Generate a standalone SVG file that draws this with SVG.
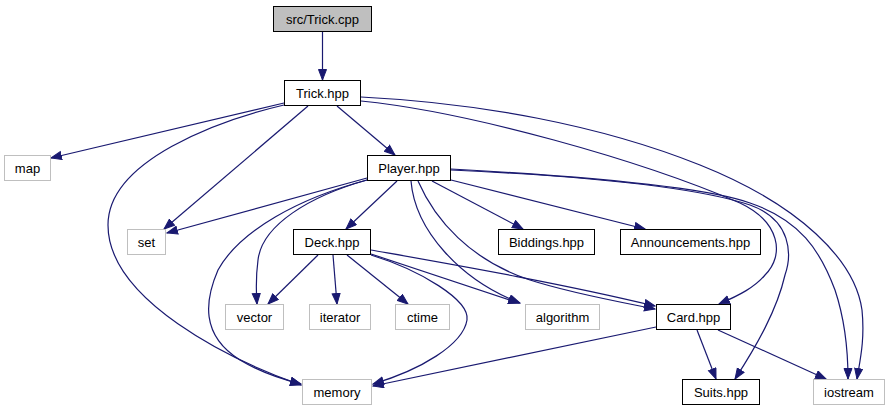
<svg xmlns="http://www.w3.org/2000/svg" width="891" height="411" viewBox="0 0 891 411">
<style>
.n rect{fill:#ffffff;stroke:#000000;stroke-width:1}
.n.root rect{fill:#bfbfbf}
.n.ext rect{stroke:#bfbfbf}
.n text{font-family:"Liberation Sans",Arial,sans-serif;font-size:13px;fill:#000000;text-anchor:middle}
#edges path{fill:none;stroke:#191970;stroke-width:1.2;marker-end:url(#ah)}
</style>
<defs>
<marker id="ah" markerUnits="userSpaceOnUse" markerWidth="12" markerHeight="10" refX="11" refY="4.5" orient="auto">
<path d="M0.5,0.5 L11,4.5 L0.5,8.5 z" fill="#191970" stroke="#191970" stroke-width="1"/>
</marker>
</defs>
<rect width="891" height="411" fill="#ffffff"/>
<g id="edges">
<path d="M322.5,31 L322.5,80"/>
<path d="M284,103 L51,158"/>
<path d="M284,105 C220,120 108,160 108,225 C108,300 230,360 301,385"/>
<path d="M308,106 L164,229"/>
<path d="M337,106 L395,155"/>
<path d="M361,101 C470,112 640,160 740,203 C780,222 785,255 765,275 C755,287 740,295 719,304"/>
<path d="M361,97 C480,103 600,125 700,165 C800,205 855,260 862,310 C865,340 860,360 857,379"/>
<path d="M367,178 L167,233"/>
<path d="M367,180 C310,196 262,225 258,260 C256,275 256,290 257,304"/>
<path d="M367,180 C300,198 240,230 218,270 C205,300 200,335 240,360 C260,372 285,380 301,384"/>
<path d="M397,181 L346,229"/>
<path d="M411,181 C415,230 460,280 520,303"/>
<path d="M418,181 C435,220 470,260 530,280 C570,293 620,302 655,309"/>
<path d="M432,181 L523,229"/>
<path d="M451,180 L645,229"/>
<path d="M451,170 C560,175 690,185 750,205 C792,220 792,255 785,275 C777,310 757,345 735,379"/>
<path d="M451,169 C560,175 700,185 750,203 C800,220 820,250 835,290 C845,320 848,350 848,379"/>
<path d="M318,255 L268,304"/>
<path d="M333,255 L337,304"/>
<path d="M347,255 L408,304"/>
<path d="M371,254 L519,303"/>
<path d="M371,250 C450,264 560,283 655,306"/>
<path d="M371,255 C420,270 470,300 467,320 C463,345 420,370 373,384"/>
<path d="M656,327 L373,386"/>
<path d="M697,330 L716,379"/>
<path d="M718,330 L826,379"/>
</g>
<g id="n_trick_cpp" class="n root"><rect x="273.5" y="6.5" width="98" height="25"/><text x="322.5" y="23.5">src/Trick.cpp</text></g>
<g id="n_trick_hpp" class="n"><rect x="284.5" y="80.5" width="76" height="25"/><text x="322.5" y="97.5">Trick.hpp</text></g>
<g id="n_map" class="n ext"><rect x="4.5" y="155.5" width="46" height="25"/><text x="27.5" y="172.5">map</text></g>
<g id="n_player" class="n"><rect x="367.5" y="155.5" width="83" height="25"/><text x="409" y="172.5">Player.hpp</text></g>
<g id="n_set" class="n ext"><rect x="127.5" y="229.5" width="38" height="25"/><text x="146.5" y="246.5">set</text></g>
<g id="n_deck" class="n"><rect x="293.5" y="229.5" width="77" height="25"/><text x="332" y="246.5">Deck.hpp</text></g>
<g id="n_biddings" class="n"><rect x="498.5" y="229.5" width="96" height="25"/><text x="546.5" y="246.5">Biddings.hpp</text></g>
<g id="n_announcements" class="n"><rect x="620.5" y="229.5" width="140" height="25"/><text x="690.5" y="246.5">Announcements.hpp</text></g>
<g id="n_vector" class="n ext"><rect x="225.5" y="304.5" width="58" height="25"/><text x="254.5" y="321.5">vector</text></g>
<g id="n_iterator" class="n ext"><rect x="309.5" y="304.5" width="61" height="25"/><text x="340" y="321.5">iterator</text></g>
<g id="n_ctime" class="n ext"><rect x="395.5" y="304.5" width="54" height="25"/><text x="422.5" y="321.5">ctime</text></g>
<g id="n_algorithm" class="n ext"><rect x="525.5" y="304.5" width="74" height="25"/><text x="562.5" y="321.5">algorithm</text></g>
<g id="n_card" class="n"><rect x="656.5" y="304.5" width="74" height="25"/><text x="693.5" y="321.5">Card.hpp</text></g>
<g id="n_memory" class="n ext"><rect x="302.5" y="379.5" width="69" height="25"/><text x="337" y="396.5">memory</text></g>
<g id="n_suits" class="n"><rect x="682.5" y="379.5" width="77" height="25"/><text x="721" y="396.5">Suits.hpp</text></g>
<g id="n_iostream" class="n ext"><rect x="813.5" y="379.5" width="71" height="25"/><text x="849" y="396.5">iostream</text></g>
</svg>
